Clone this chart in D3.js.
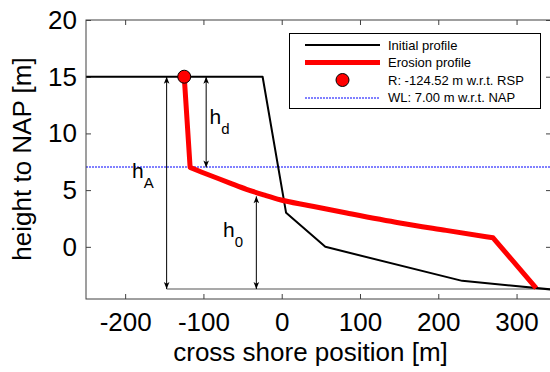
<!DOCTYPE html>
<html><head><meta charset="utf-8">
<script src="https://cdn.jsdelivr.net/npm/d3@7"></script>
<style>body{margin:0;background:#fff} svg{display:block;font-family:"Liberation Sans",Arial,sans-serif}</style>
</head><body><svg id="c" width="550" height="372"></svg>
<script>
// ---- data ----
const xTicks = [-200, -100, 0, 100, 200, 300];
const yTicks = [0, 5, 10, 15, 20];
const xDomain = [-250, 344];
const yDomain = [-4.6, 20];
const initialX = [-250, -24.4, 5.6, 55.7, 230.6, 344];
const initialZ = [15, 15, 3, 0, -3, -3.76];
const erosionX = [-124.52, -117, -102, -87, -66, -45, -23, -2, 34, 83, 151, 210, 270, 325];
const erosionZ = [15, 7, 6.58, 6.18, 5.62, 5.07, 4.58, 4.15, 3.65, 2.98, 2.1, 1.45, 0.8, -3.65];
const R = -124.52, Rz = 15;
const WL = 7;
const toeZ = -3.72;
const arrowsX = [-147, -96.5, -32.4];
const arrowsZ0 = [15, 15, toeZ];
const arrowsZ1 = [toeZ, 7, 4.45];
const legendLabels = ["Initial profile", "Erosion profile", "R: -124.52 m w.r.t. RSP", "WL: 7.00 m w.r.t. NAP"];
const xLabel = "cross shore position [m]";
const yLabel = "height to NAP [m]";

// ---- layout ----
const L = 86, T = 20, Rr = 551, B = 299;
const svg = d3.select("#c");
const x = d3.scaleLinear().domain(xDomain).range([L, Rr]);
const y = d3.scaleLinear().domain(yDomain).range([B, T]);

svg.append("defs").append("clipPath").attr("id","clip")
  .append("rect").attr("x",L).attr("y",T).attr("width",Rr-L).attr("height",B-T);
const mk = svg.select("defs").append("marker").attr("id","ah")
  .attr("viewBox","0 0 10 10").attr("refX",10).attr("refY",5)
  .attr("markerWidth",9).attr("markerHeight",7).attr("markerUnits","userSpaceOnUse")
  .attr("orient","auto-start-reverse");
mk.append("path").attr("d","M0,1 L10,5 L0,9 L2.5,5 z").attr("fill","#000");

// axes
const axCol = "#404040";
const fmt = d => String(d);
function styleAxis(g){
  g.select(".domain").remove();
  g.selectAll(".tick line").attr("stroke",axCol);
  g.selectAll(".tick text").attr("fill","#000").attr("font-size",26).attr("font-family","Liberation Sans, Arial, sans-serif");
}
svg.append("g").attr("transform",`translate(0,${B})`)
  .call(d3.axisBottom(x).tickValues(xTicks).tickFormat(fmt).tickSize(-5).tickPadding(14)).call(styleAxis);
svg.append("g").attr("transform",`translate(0,${T})`)
  .call(d3.axisTop(x).tickValues(xTicks).tickSize(-5).tickFormat("")).call(styleAxis);
svg.append("g").attr("transform",`translate(${L},0)`)
  .call(d3.axisLeft(y).tickValues(yTicks).tickFormat(fmt).tickSize(-5).tickPadding(9)).call(styleAxis);
svg.append("g").attr("transform",`translate(${Rr},0)`)
  .call(d3.axisRight(y).tickValues(yTicks).tickSize(-5).tickFormat("")).call(styleAxis);

const plot = svg.append("g").attr("clip-path","url(#clip)");

// water level
const wlColor = "#0000ff";
const wy = Math.round(y(WL));
plot.append("line").attr("x1",L).attr("x2",Rr).attr("y1",wy).attr("y2",wy)
  .style("stroke",wlColor).style("stroke-width","1px").style("stroke-dasharray","2 1");

// baseline
plot.append("line").attr("x1",x(arrowsX[0])).attr("x2",Rr).attr("y1",y(toeZ)).attr("y2",y(toeZ))
  .attr("stroke","#555").attr("stroke-width",1.2);

const line = d3.line().x(d=>x(d[0])).y(d=>y(d[1]));
const curve = d3.line().x(d=>x(d[0])).y(d=>y(d[1])).curve(d3.curveMonotoneX);
plot.append("path").datum(initialX.map((v,i)=>[v,initialZ[i]])).attr("d",line)
  .attr("fill","none").attr("stroke","#000").attr("stroke-width",2).attr("stroke-linejoin","round");
const ero = erosionX.map((v,i)=>[v,erosionZ[i]]);
const n = ero.length;
const dEro = line(ero.slice(0,2)) + curve(ero.slice(1,n-1)).replace(/^M/,"L") + line(ero.slice(n-2)).replace(/^M/,"L");
plot.append("path").attr("d",dEro)
  .attr("fill","none").attr("stroke","#ff0000").attr("stroke-width",5).attr("stroke-linejoin","round");

// arrows
arrowsX.forEach((ax,i)=>{
  plot.append("line").attr("x1",x(ax)).attr("x2",x(ax)).attr("y1",y(arrowsZ0[i])).attr("y2",y(arrowsZ1[i]))
    .attr("stroke","#000").attr("stroke-width",1)
    .attr("marker-start","url(#ah)").attr("marker-end","url(#ah)");
});

// R marker
plot.append("circle").attr("cx",x(R)).attr("cy",y(Rz)).attr("r",6.5)
  .attr("fill","#ff0000").attr("stroke","#000").attr("stroke-width",1);

// h labels
function hlab(px,py,sub){
  const t = svg.append("text").attr("x",px).attr("y",py).attr("font-size",21).attr("fill","#000");
  t.append("tspan").text("h");
  t.append("tspan").attr("dy",10).attr("font-size",15).text(sub);
}
hlab(209.5,124,"d");
hlab(132,177.5,"A");
hlab(223,237,"0");

// frame
svg.append("rect").attr("x",L).attr("y",T).attr("width",Rr-L).attr("height",B-T)
  .attr("fill","none").attr("stroke",axCol).attr("stroke-width",1);

// legend
const lg = svg.append("g");
lg.append("rect").attr("x",289.5).attr("y",33.5).attr("width",251).attr("height",75)
  .attr("fill","#fff").attr("stroke","#000").attr("stroke-width",1);
const rowsY = [45, 62.5, 80, 97.5];
lg.append("line").attr("x1",305).attr("x2",380).attr("y1",rowsY[0]).attr("y2",rowsY[0]).attr("stroke","#000").attr("stroke-width",2);
lg.append("line").attr("x1",305).attr("x2",380).attr("y1",rowsY[1]).attr("y2",rowsY[1]).attr("stroke","#ff0000").attr("stroke-width",5);
lg.append("circle").attr("cx",342.5).attr("cy",rowsY[2]).attr("r",6.5).attr("fill","#ff0000").attr("stroke","#000");
lg.append("line").attr("x1",305).attr("x2",380).attr("y1",rowsY[3]+0.5).attr("y2",rowsY[3]+0.5)
  .style("stroke",wlColor).style("stroke-width","1px").style("stroke-dasharray","2 1");
legendLabels.forEach((t,i)=>{
  lg.append("text").attr("x",388).attr("y",rowsY[i]).attr("dy","0.35em").attr("font-size",13).attr("fill","#000").text(t);
});

// axis labels
svg.append("text").attr("x",(L+Rr)/2-8).attr("y",361).attr("text-anchor","middle")
  .attr("font-size",26).attr("fill","#000").text(xLabel);
svg.append("text").attr("transform","translate(31,159) rotate(-90)").attr("text-anchor","middle")
  .attr("font-size",26).attr("fill","#000").text(yLabel);
</script></body></html>
